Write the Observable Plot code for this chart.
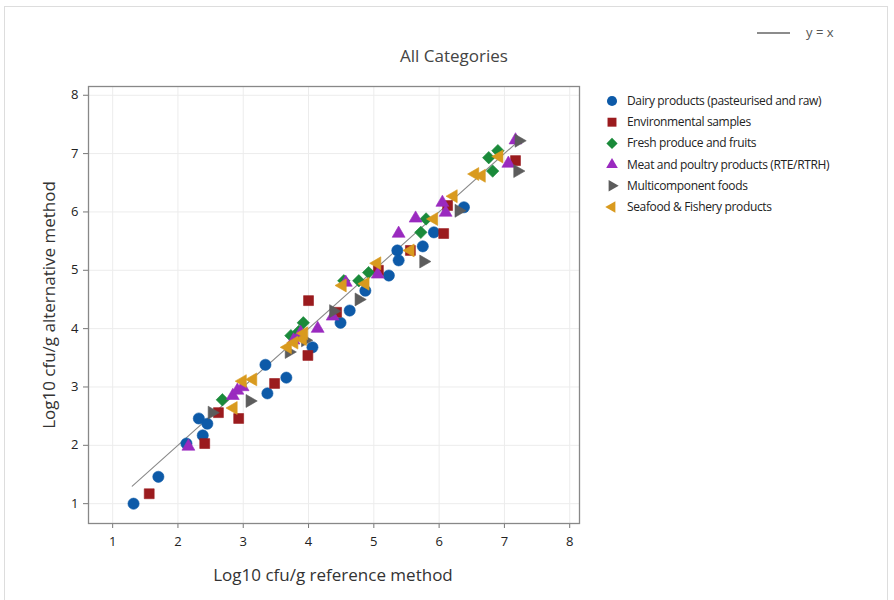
<!DOCTYPE html>
<html>
<head>
<meta charset="utf-8">
<script src="https://cdn.jsdelivr.net/npm/d3@7"></script>
<script src="https://cdn.jsdelivr.net/npm/@observablehq/plot@0.6"></script>
<style>
  html, body { margin: 0; padding: 0; background: #fff; }
  #wrap { position: relative; width: 894px; height: 600px; font-family: "Open Sans", sans-serif; overflow: hidden; }
  #border { position: absolute; left: 4px; top: 6px; width: 884px; height: 600px; border: 1px solid #ddd; box-sizing: border-box; pointer-events: none; }
  .abs { position: absolute; white-space: nowrap; }
  #title { left: 454px; top: 44px; transform: translateX(-50%); font-size: 17px; color: #444; }
  #xlab { left: 333px; top: 563px; transform: translateX(-50%); font-size: 17px; color: #333; }
  #ylab { left: 48px; top: 305px; transform: translate(-50%, -50%) rotate(-90deg); font-size: 17px; color: #333; }
  #reflab { left: 806px; top: 23px; font-size: 13px; color: #555; }
  .leg { font-size: 12px; color: #222; letter-spacing: -0.35px; }
</style>
</head>
<body>
<div id="wrap"></div>
<script>
const categories = [
  "Dairy products (pasteurised and raw)",
  "Environmental samples",
  "Fresh produce and fruits",
  "Meat and poultry products (RTE/RTRH)",
  "Multicomponent foods",
  "Seafood & Fishery products"
];
const colors = ["#0d5aa8", "#9b1b1e", "#1a8a3a", "#9a2abf", "#5c5c5c", "#d99a1e"];

// [reference, alternative] log10 cfu/g
const dairyRef = [1.32, 1.70, 2.13, 2.32, 2.45, 2.38, 3.34, 3.37, 3.66, 4.06, 4.49, 4.63, 4.87, 5.23, 5.36, 5.38, 5.75, 5.92, 6.38];
const dairyAlt = [1.00, 1.46, 2.03, 2.46, 2.37, 2.17, 3.38, 2.89, 3.16, 3.68, 4.10, 4.31, 4.65, 4.91, 5.34, 5.17, 5.41, 5.65, 6.08];
const envRef = [1.56, 2.41, 2.62, 2.93, 3.48, 3.99, 4.00, 4.43, 5.07, 5.56, 6.07, 6.13, 7.17];
const envAlt = [1.17, 2.03, 2.56, 2.46, 3.06, 3.54, 4.48, 4.28, 5.00, 5.34, 5.63, 6.11, 6.88];
const freshRef = [2.68, 3.73, 3.92, 3.85, 4.54, 4.77, 4.92, 5.72, 5.80, 6.76, 6.90, 6.82];
const freshAlt = [2.78, 3.88, 4.10, 3.95, 4.82, 4.82, 4.96, 5.65, 5.88, 6.93, 7.05, 6.70];
const meatRef = [2.16, 2.84, 2.91, 2.99, 3.77, 3.88, 4.14, 4.37, 4.57, 5.06, 5.38, 5.64, 6.05, 6.10, 7.06, 7.17];
const meatAlt = [1.98, 2.85, 2.94, 3.00, 3.80, 3.93, 4.00, 4.21, 4.79, 4.93, 5.63, 5.89, 6.16, 5.99, 6.83, 7.23];
const multiRef = [2.52, 3.10, 3.70, 3.95, 4.38, 4.77, 5.76, 6.30, 7.20, 7.22];
const multiAlt = [2.56, 2.76, 3.60, 3.80, 4.30, 4.50, 5.15, 6.02, 6.70, 7.22];
const seaRef = [2.85, 2.99, 3.15, 3.68, 3.78, 3.91, 3.93, 4.52, 4.87, 5.05, 5.56, 5.92, 6.22, 6.55, 6.65, 6.92];
const seaAlt = [2.64, 3.10, 3.13, 3.68, 3.76, 3.82, 3.92, 4.74, 4.77, 5.12, 5.34, 5.88, 6.27, 6.65, 6.62, 6.95];
const identityLine = [1.3, 7.25];
const xTicks = [1, 2, 3, 4, 5, 6, 7, 8];
const yTicks = [1, 2, 3, 4, 5, 6, 7, 8];

const refs = [dairyRef, envRef, freshRef, meatRef, multiRef, seaRef];
const alts = [dairyAlt, envAlt, freshAlt, meatAlt, multiAlt, seaAlt];

const sqrt3 = Math.sqrt(3);
const triRight = { draw(ctx, size) { const y = -Math.sqrt(size / (sqrt3 * 3)); ctx.moveTo(-2 * y, 0); ctx.lineTo(y, -sqrt3 * y); ctx.lineTo(y, sqrt3 * y); ctx.closePath(); } };
const triLeft = { draw(ctx, size) { const y = -Math.sqrt(size / (sqrt3 * 3)); ctx.moveTo(2 * y, 0); ctx.lineTo(-y, sqrt3 * y); ctx.lineTo(-y, -sqrt3 * y); ctx.closePath(); } };
const symbols = [d3.symbolCircle, d3.symbolSquare, d3.symbolDiamond2, d3.symbolTriangle, triRight, triLeft];
const radii = [5.6, 5.6, 5.6, 4.8, 4.8, 4.8];

const dotMarks = categories.map((c, i) => Plot.dot(refs[i].map((r, j) => ({ x: r, y: alts[i][j] })), {
  x: "x", y: "y", symbol: symbols[i], fill: colors[i], stroke: colors[i], strokeWidth: 0.6, r: radii[i]
}));

const chart = Plot.plot({
  width: 894, height: 600,
  marginLeft: 88, marginRight: 315, marginTop: 86, marginBottom: 77,
  style: { fontFamily: "Open Sans, sans-serif", fontSize: "13px", color: "#333", background: "transparent" },
  x: { domain: [0.63, 8.15] },
  y: { domain: [0.66, 8.15] },
  marks: [
    Plot.gridX(xTicks, { stroke: "#ececec", strokeOpacity: 1 }),
    Plot.gridY(yTicks, { stroke: "#ececec", strokeOpacity: 1 }),
    Plot.axisX(xTicks, { tickSize: 5, tickPadding: 8, label: null, stroke: "#777", fontSize: 13, fill: "#222", tickFormat: d3.format("d") }),
    Plot.axisY(yTicks, { tickSize: 5, tickPadding: 5, label: null, stroke: "#777", fontSize: 13, fill: "#222", tickFormat: d3.format("d") }),
    Plot.line(identityLine.map(v => ({ x: v, y: v })), { x: "x", y: "y", stroke: "#8a8a8a", strokeWidth: 1.1 }),
    ...dotMarks,
    Plot.frame({ stroke: "#888", strokeWidth: 1.3 })
  ]
});

const wrap = document.getElementById("wrap");
chart.style.position = "absolute";
chart.style.left = "0px";
chart.style.top = "0px";
wrap.appendChild(chart);

function addText(id, cls, txt) {
  const d = document.createElement("div");
  if (id) d.id = id;
  d.className = "abs " + (cls || "");
  d.textContent = txt;
  wrap.appendChild(d);
  return d;
}
addText("title", "", "All Categories");
addText("xlab", "", "Log10 cfu/g reference method");
addText("ylab", "", "Log10 cfu/g alternative method");
addText("reflab", "", "y = x");

// overlay svg for legends
const ns = "http://www.w3.org/2000/svg";
const ov = document.createElementNS(ns, "svg");
ov.setAttribute("width", 894); ov.setAttribute("height", 600);
ov.style.position = "absolute"; ov.style.left = "0"; ov.style.top = "0"; ov.style.pointerEvents = "none";
wrap.appendChild(ov);
const ln = document.createElementNS(ns, "line");
ln.setAttribute("x1", 757); ln.setAttribute("x2", 790); ln.setAttribute("y1", 33); ln.setAttribute("y2", 33);
ln.setAttribute("stroke", "#666"); ln.setAttribute("stroke-width", 1.4);
ov.appendChild(ln);

categories.forEach((c, i) => {
  const cy = 101 + i * 21.2;
  const p = document.createElementNS(ns, "path");
  const r = radii[i] * 0.9;
  p.setAttribute("d", d3.symbol(symbols[i], Math.PI * r * r)());
  p.setAttribute("transform", `translate(612,${cy})`);
  p.setAttribute("fill", colors[i]);
  ov.appendChild(p);
  const t = addText(null, "leg", c);
  t.style.left = "627px";
  t.style.top = (cy - 9) + "px";
});

const b = document.createElement("div");
b.id = "border";
wrap.appendChild(b);
</script>
</body>
</html>
